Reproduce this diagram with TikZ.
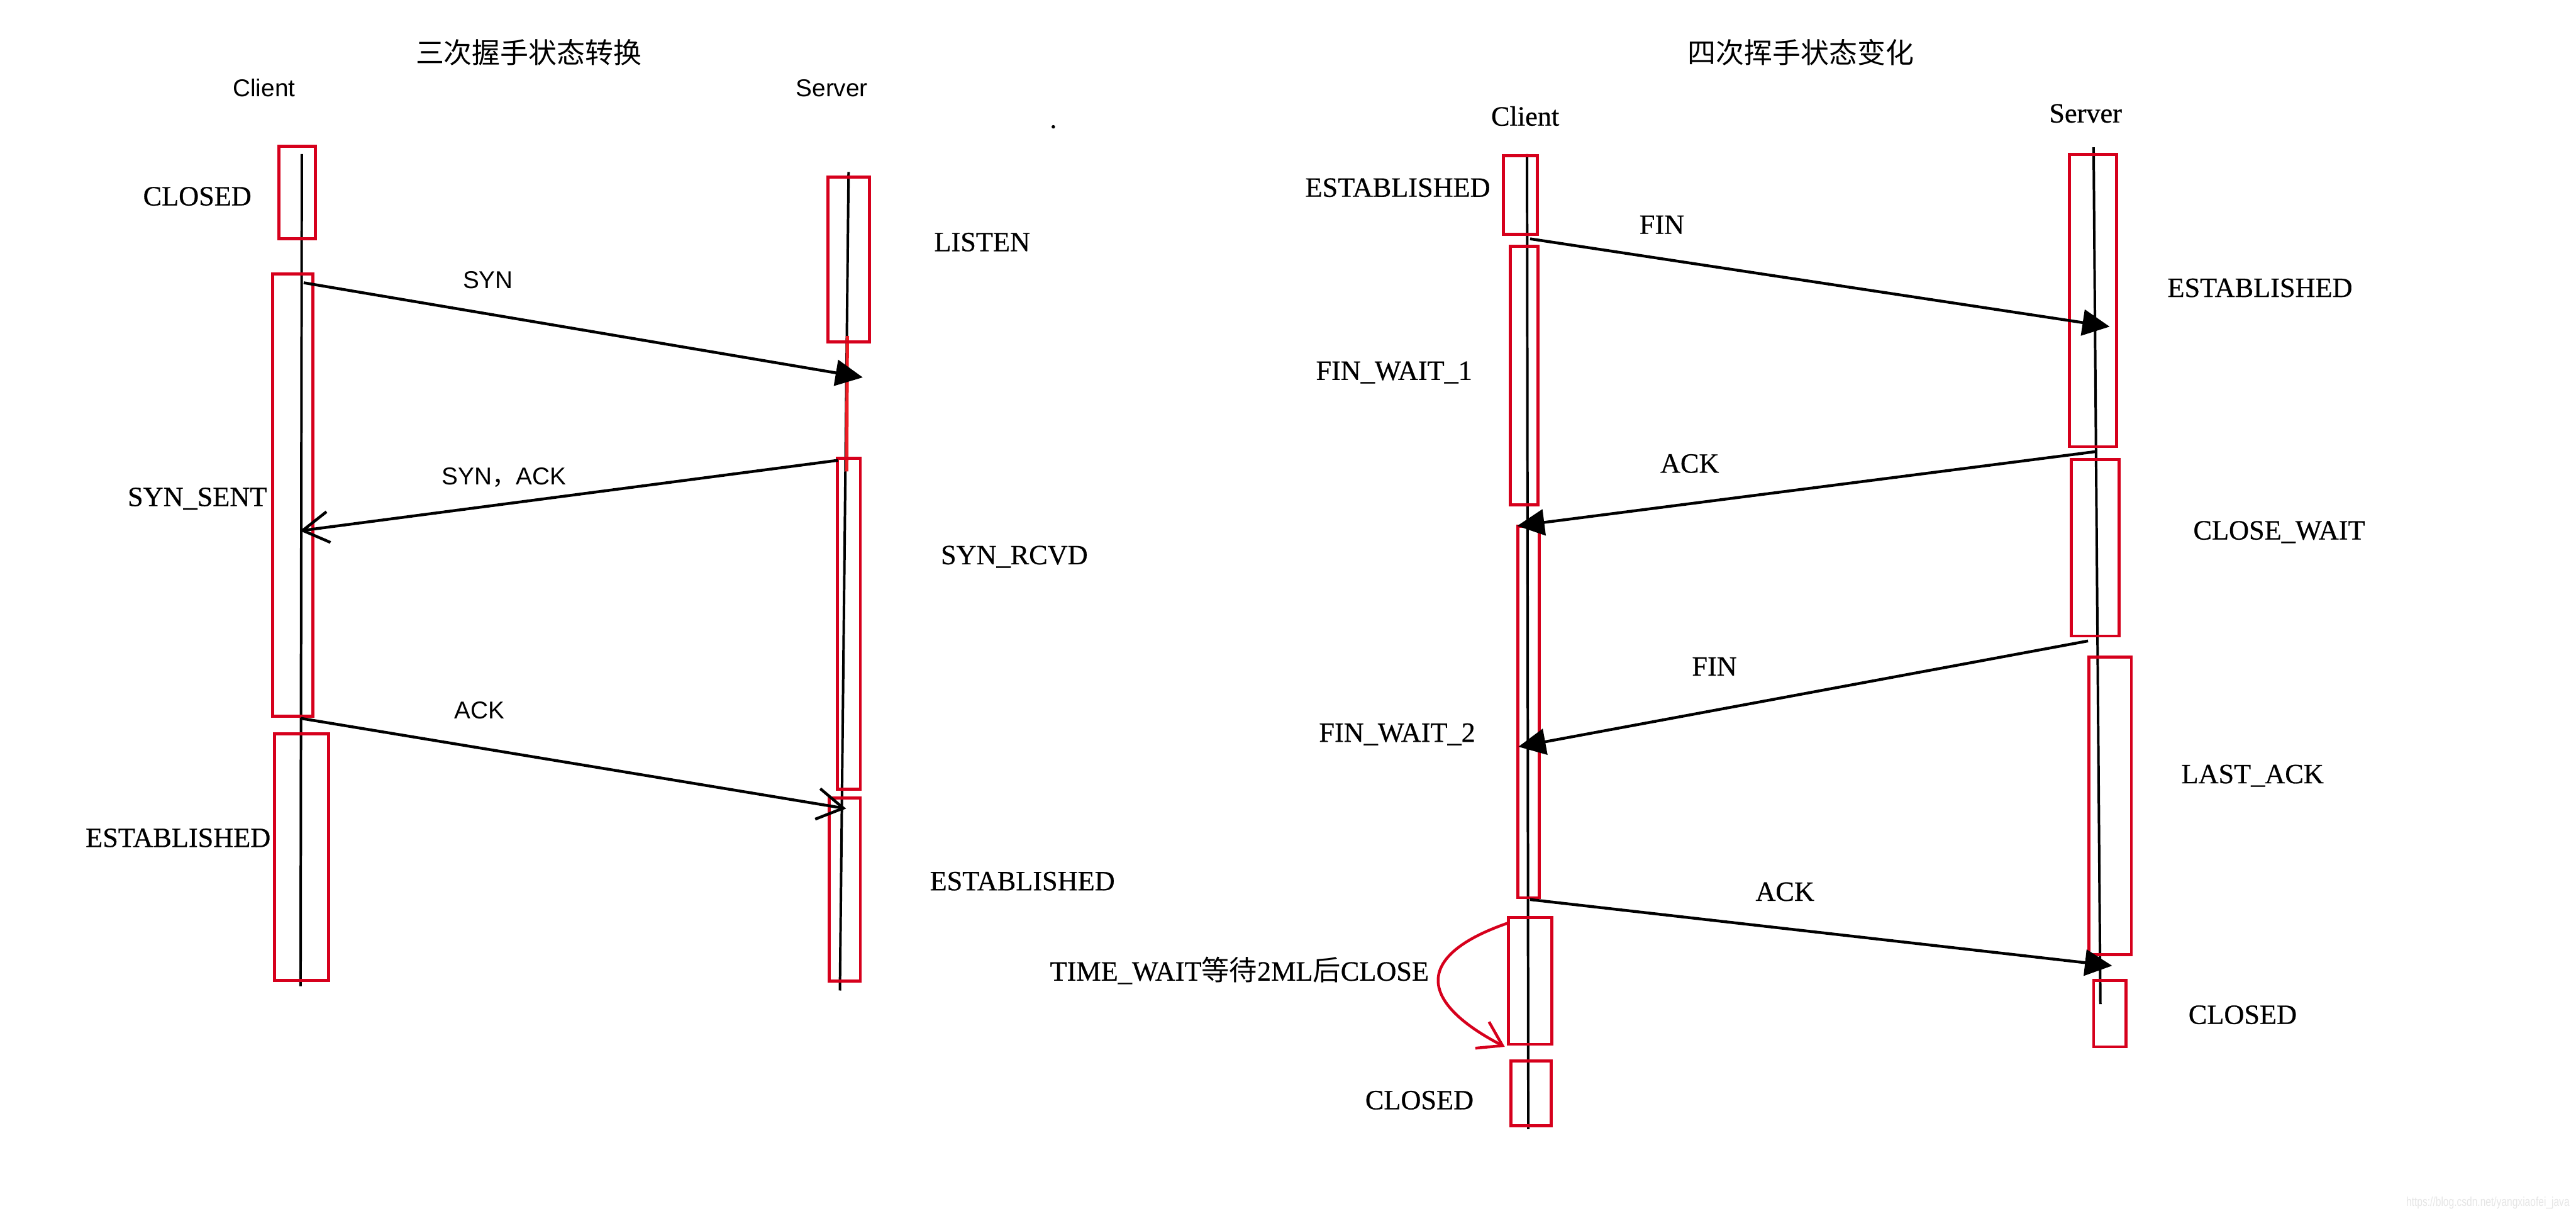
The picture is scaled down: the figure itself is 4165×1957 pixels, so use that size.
\documentclass[tikz,border=0pt]{standalone}
\usepackage{fontspec}
\setmainfont{Liberation Serif}
\newfontfamily\stf[FakeBold=0.6]{Liberation Serif}
\newfontfamily\sansf{Liberation Sans}
\newfontfamily\cjk{Noto Sans CJK SC}
\usetikzlibrary{arrows.meta,fit}
\definecolor{boxred}{RGB}{214,0,28}
\definecolor{linered}{RGB}{237,28,36}
\begin{document}
\begin{tikzpicture}[x=0.01cm,y=-0.01cm,
  life/.style={line width=1.15pt, black},
  sbox/.style={draw=boxred, line width=1.4pt, inner sep=0pt, rectangle},
  msgf/.style={line width=1.3pt, -{Triangle[length=0.44cm,width=0.42cm]}},
  msgo/.style={line width=1.3pt, -{Straight Barb[length=0.42cm,width=0.5cm]}},
  st/.style={font=\stf\fontsize{12.8}{14}\selectfont, anchor=base, inner sep=0pt},
  lab/.style={font=\sansf\fontsize{11.2}{13}\selectfont, anchor=base, inner sep=0pt},
  ttl/.style={font=\cjk\fontsize{13}{15}\selectfont, inner sep=0pt},
]
\useasboundingbox (0,0) rectangle (4165,1957);

% ================= left: three-way handshake =================
\node[ttl] (t1) at (855,85) {三次握手状态转换};
\node[lab] (lc) at (427,156) {Client};
\node[lab] (ls) at (1345,156) {Server};

\coordinate (lcT) at (488,249);
\coordinate (lcB) at (486,1594);
\coordinate (lsT) at (1372,278);
\coordinate (lsB) at (1358,1601);
\draw[life] (lcT) -- (lcB);
\draw[life] (lsT) -- (lsB);
\coordinate (lrA) at (1370,543);
\coordinate (lrB) at (1369,762);
\draw[linered, line width=1.5pt] (lrA) -- (lrB);

\node[sbox, fit={(451,236) (510,386)}] (bL1) {};
\node[sbox, fit={(441,443) (506,1158)}] (bL2) {};
\node[sbox, fit={(444,1186) (531,1585)}] (bL3) {};
\node[sbox, fit={(1339,286) (1406,553)}] (bL4) {};
\node[sbox, fit={(1354,741) (1391,1276)}] (bL5) {};
\node[sbox, fit={(1341,1290) (1391,1586)}] (bL6) {};

\node[st] (sL1) at (319,332) {CLOSED};
\node[st] (sL2) at (319,818) {SYN\_SENT};
\node[st] (sL3) at (288,1369) {ESTABLISHED};
\node[st] (sL4) at (1588,406) {LISTEN};
\node[st] (sL5) at (1640,912) {SYN\_RCVD};
\node[st] (sL6) at (1653,1439) {ESTABLISHED};

\coordinate (m1s) at (491,457);
\coordinate (m1e) at (1395,610);
\coordinate (m2s) at (1355,744);
\coordinate (m2e) at (485,858);
\coordinate (m3s) at (486,1161);
\coordinate (m3e) at (1368,1307);
\draw[msgf] (m1s) -- (m1e);
\draw[msgo] (m2s) -- (m2e);
\draw[msgo] (m3s) -- (m3e);
\node[lab] (l1) at (789,466) {SYN};
\node[lab] (l2) at (815,783) {SYN{\cjk ，}ACK};
\node[lab] (l3) at (775,1162) {ACK};

\fill (1703,205) circle[radius=0.8pt];

% ================= right: four-way wave =================
\node[ttl] (t2) at (2912,85) {四次挥手状态变化};
\node[st] (rc) at (2466,203) {Client};
\node[st] (rs) at (3372,198) {Server};

\coordinate (rcT) at (2469,249);
\coordinate (rcB) at (2471,1825);
\coordinate (rsT) at (3385,238);
\coordinate (rsB) at (3396,1623);
\draw[life] (rcT) -- (rcB);
\draw[life] (rsT) -- (rsB);

\node[sbox, fit={(2431,252) (2486,379)}] (bR1) {};
\node[sbox, fit={(2442,398) (2487,816)}] (bR2) {};
\node[sbox, fit={(2454,851) (2489,1451)}] (bR3) {};
\node[sbox, fit={(2439,1483) (2509,1688)}] (bR4) {};
\node[sbox, fit={(2443,1715) (2508,1820)}] (bR5) {};
\node[sbox, fit={(3346,250) (3422,722)}] (bR6) {};
\node[sbox, fit={(3349,743) (3426,1028)}] (bR7) {};
\node[sbox, fit={(3377,1062) (3446,1543)}] (bR8) {};
\node[sbox, fit={(3385,1585) (3437,1692)}] (bR9) {};

\node[st] (sR1) at (2260,318) {ESTABLISHED};
\node[st] (sR2) at (2254,614) {FIN\_WAIT\_1};
\node[st] (sR3) at (2259,1199) {FIN\_WAIT\_2};
\node[st, anchor=base east] (sR4) at (2311,1585) {TIME\_WAIT{\cjk 等待}2ML{\cjk 后}CLOSE};
\node[st] (sR5) at (2295,1793) {CLOSED};
\node[st] (sR6) at (3654,480) {ESTABLISHED};
\node[st] (sR7) at (3685,872) {CLOSE\_WAIT};
\node[st] (sR8) at (3642,1266) {LAST\_ACK};
\node[st] (sR9) at (3626,1655) {CLOSED};

\coordinate (n1s) at (2474,386);
\coordinate (n1e) at (3411,528);
\coordinate (n2s) at (3388,730);
\coordinate (n2e) at (2453,850);
\coordinate (n3s) at (3376,1036);
\coordinate (n3e) at (2455,1207);
\coordinate (n4s) at (2474,1454);
\coordinate (n4e) at (3415,1561);
\draw[msgf] (n1s) -- (n1e);
\draw[msgf] (n2s) -- (n2e);
\draw[msgf] (n3s) -- (n3e);
\draw[msgf] (n4s) -- (n4e);
\node[st] (r1) at (2687,378) {FIN};
\node[st] (r2) at (2732,764) {ACK};
\node[st] (r3) at (2772,1092) {FIN};
\node[st] (r4) at (2886,1456) {ACK};

\coordinate (cvS) at (2438,1492);
\coordinate (cvE) at (2433,1692);
\draw[boxred, line width=1.3pt, -{Straight Barb[length=0.37cm,width=0.48cm]}]
  (cvS) .. controls (2290,1543) and (2289,1617) .. (cvE);

\node[anchor=base east, font=\sansf\fontsize{6}{7}\selectfont, text=black!10, xscale=0.75, inner sep=0pt] (wm) at (4155,1950) {https://blog.csdn.net/yangxiaofei\_java};
\end{tikzpicture}
\end{document}
